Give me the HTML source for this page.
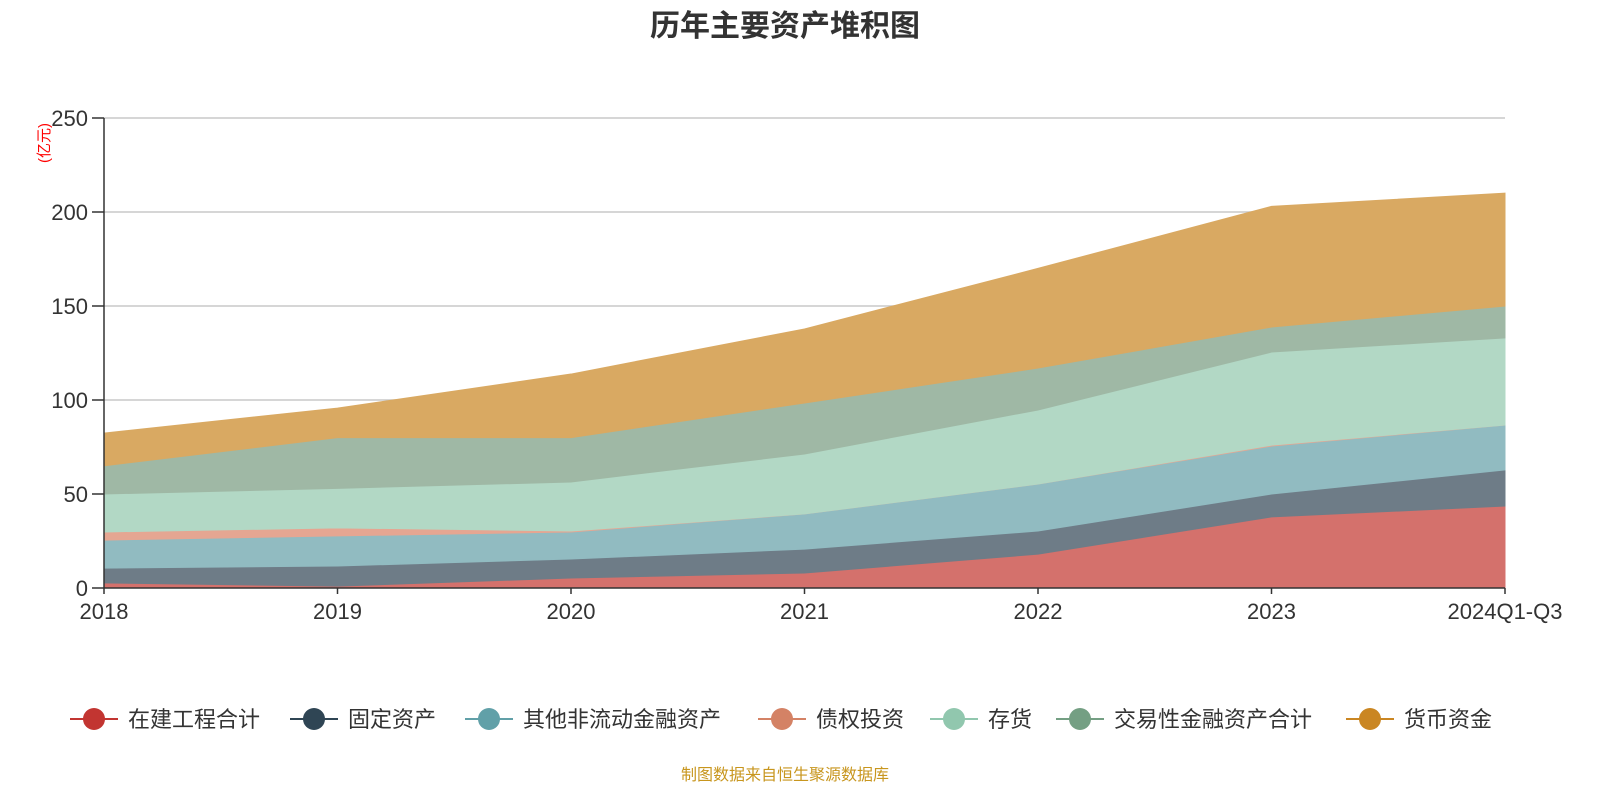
<!DOCTYPE html>
<html><head><meta charset="utf-8"><style>
body{margin:0;background:#fff;font-family:"Liberation Sans","Noto Sans CJK SC",sans-serif;}
</style></head><body>
<svg id="chart" width="1600" height="800" xmlns="http://www.w3.org/2000/svg">
<text x="785" y="36" text-anchor="middle" font-size="30" font-weight="bold" fill="#333" font-family="Liberation Sans,Noto Sans CJK SC,sans-serif">历年主要资产堆积图</text>
<text transform="translate(49,143) rotate(-90)" text-anchor="middle" font-size="15" fill="#f00" font-family="Liberation Sans,Noto Sans CJK SC,sans-serif">(亿元)</text>
<g id="grid"></g><g id="areas"></g><g id="axes"></g><g id="legend"></g>
<text x="785" y="780" text-anchor="middle" font-size="16" fill="#c8961e" font-family="Liberation Sans,Noto Sans CJK SC,sans-serif">制图数据来自恒生聚源数据库</text>
</svg>
<script>
const categories=["2018","2019","2020","2021","2022","2023","2024Q1-Q3"];
const yTicks=[0,50,100,150,200,250];
const seriesNames=["在建工程合计","固定资产","其他非流动金融资产","债权投资","存货","交易性金融资产合计","货币资金"];
const s1=[2.7,1,5.3,8,18,37.8,43.6];
const s2=[7.9,10.7,10.1,12.7,12.3,12.2,19.2];
const s3=[14.9,16,14.4,18.7,25,25.5,23.9];
const s4=[4.3,4.3,0.5,0,0,0.5,0];
const s5=[20.2,21,26.1,31.9,39.4,49.5,46.3];
const s6=[15,27,23.6,27.1,22.3,13.3,17];
const s7=[17.4,15.7,33.8,39.4,53,64.2,60];
const series=[s1,s2,s3,s4,s5,s6,s7];
const lineColors=["#c23531","#2f4554","#61a0a8","#d48265","#91c7ae","#749f83","#ca8622"];
const fillColors=["#d4716c","#6e7c87","#91bbc1","#e5a692","#b2d8c5","#9fb8a5","#d9a962"];
const NS="http://www.w3.org/2000/svg";
const X0=104,X1=1505,Y0=588,Y1=118,YMAX=250;
const xs=i=>X0+(X1-X0)*i/(categories.length-1);
const ys=v=>Y0-(Y0-Y1)*v/YMAX;
function mk(t,a,p){const e=document.createElementNS(NS,t);for(const k in a)e.setAttribute(k,a[k]);p.appendChild(e);return e;}
const grid=document.getElementById('grid'),axes=document.getElementById('axes'),areas=document.getElementById('areas'),legend=document.getElementById('legend');
const F="Liberation Sans,Noto Sans CJK SC,sans-serif";
yTicks.forEach(t=>{
 if(t>0){const g=mk('line',{x1:X0,x2:X1,y1:ys(t),y2:ys(t),stroke:'#c8c8c8','stroke-width':1.5},grid);
 
 }
 mk('line',{x1:X0-12,x2:X0,y1:ys(t),y2:ys(t),stroke:'#333','stroke-width':1.5},axes);
 const tx=mk('text',{x:X0-16,y:ys(t)+8,'text-anchor':'end','font-size':22,fill:'#333','font-family':F},axes);
 tx.textContent=t;
 
 
});
let base=categories.map(()=>0);
series.forEach((s,k)=>{
 const top=s.map((v,i)=>base[i]+v);
 let d='M'+categories.map((c,i)=>xs(i)+','+ys(top[i])).join(' L');
 for(let i=categories.length-1;i>=0;i--)d+=' L'+xs(i)+','+ys(base[i]);
 d+=' Z';
 const p=mk('path',{d:d,fill:fillColors[k],stroke:fillColors[k],'stroke-width':1},areas);
 
 
 base=top;
});
mk('line',{x1:X0,x2:X0,y1:Y1,y2:Y0,stroke:'#333','stroke-width':1.5},axes);
mk('line',{x1:X0,x2:X1,y1:Y0,y2:Y0,stroke:'#333','stroke-width':1.5},axes);
categories.forEach((c,i)=>{
 mk('line',{x1:xs(i),x2:xs(i),y1:Y0,y2:Y0+6,stroke:'#333','stroke-width':1.5},axes);
 const tx=mk('text',{x:xs(i),y:Y0+31,'text-anchor':'middle','font-size':22,fill:'#333','font-family':F},axes);
 tx.textContent=c;
 
 
});
const legX=[70,290,465,758,930,1056,1346];
seriesNames.forEach((n,k)=>{
 const g=mk('g',{},legend);
 
 
 const x=legX[k],y=719;
 mk('line',{x1:x,x2:x+48,y1:y,y2:y,stroke:lineColors[k],'stroke-width':2},g);
 mk('circle',{cx:x+24,cy:y,r:11,fill:lineColors[k]},g);
 const t=mk('text',{x:x+58,y:y+8,'font-size':22,fill:'#333','font-family':F},g);
 t.textContent=n;
});
</script>
</body></html>
